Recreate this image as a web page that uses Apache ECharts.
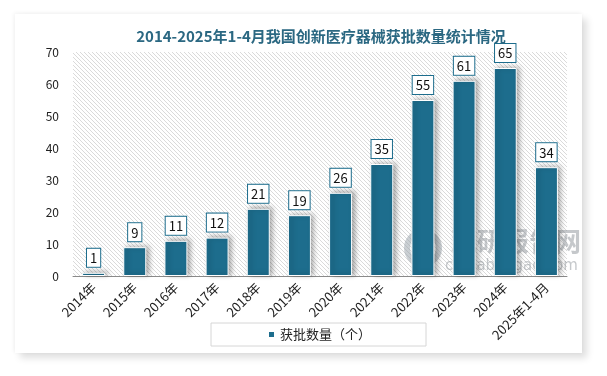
<!DOCTYPE html>
<html>
<head>
<meta charset="utf-8">
<script src="https://cdn.jsdelivr.net/npm/echarts@6/dist/echarts.min.js"></script>
<style>
  html, body { margin: 0; padding: 0; background: #fff; }
  #card {
    position: absolute; left: 15px; top: 14px; width: 567px; height: 339px;
    background: #fff; box-shadow: 5px 5px 7px rgba(0, 0, 0, 0.13), -1px -1px 4px rgba(0, 0, 0, 0.06);
  }
  #chart { position: absolute; left: 0; top: 0; width: 607px; height: 376px; }
</style>
</head>
<body>
<div id="card"></div>
<div id="chart"></div>
<script>
const years = ['2014年', '2015年', '2016年', '2017年', '2018年', '2019年', '2020年', '2021年', '2022年', '2023年', '2024年', '2025年1-4月'];
const approvals = [1, 9, 11, 12, 21, 19, 26, 35, 55, 61, 65, 34];
const seriesName = '获批数量（个）';
const titleText = '2014-2025年1-4月我国创新医疗器械获批数量统计情况';

// diagonal hatch for the plot background
const hatch = document.createElement('canvas');
hatch.width = 4;
hatch.height = 4;
const ctx = hatch.getContext('2d');
ctx.fillStyle = '#ffffff';
ctx.fillRect(0, 0, 4, 4);
ctx.strokeStyle = '#dadada';
ctx.lineWidth = 1;
ctx.beginPath();
ctx.moveTo(-1, -1);
ctx.lineTo(5, 5);
ctx.moveTo(-1, 3);
ctx.lineTo(1, 5);
ctx.moveTo(3, -1);
ctx.lineTo(5, 1);
ctx.stroke();

const chart = echarts.init(document.getElementById('chart'));
chart.setOption({
  backgroundColor: 'transparent',
  textStyle: { fontFamily: '"Noto Sans CJK SC", "DejaVu Sans", sans-serif' },
  title: {
    text: titleText,
    left: 316,
    textAlign: 'center',
    top: 24,
    textStyle: { fontSize: 15, fontWeight: 'bold', color: '#2b6882', fontFamily: '"Noto Sans CJK SC", serif' },
  },
  grid: {
    left: 73,
    right: 40,
    top: 52,
    bottom: 100,
    show: true,
    borderWidth: 0,
    backgroundColor: { image: hatch, repeat: 'repeat' },
  },
  legend: {
    left: 211,
    top: 323,
    padding: [5, 55, 5, 56],
    borderColor: '#d6d6d6',
    borderWidth: 1,
    itemWidth: 7,
    itemHeight: 7,
    icon: 'rect',
    textStyle: { fontSize: 13, color: '#222' },
    data: [seriesName],
  },
  xAxis: {
    type: 'category',
    data: years,
    axisLine: { lineStyle: { color: '#8a8a8a' } },
    axisTick: { show: false },
    axisLabel: { rotate: 45, fontSize: 13, color: '#222', margin: 9, interval: 0 },
  },
  yAxis: {
    type: 'value',
    min: 0,
    max: 70,
    interval: 10,
    axisLine: { show: false },
    axisTick: { show: false },
    splitLine: { show: false },
    axisLabel: { fontSize: 12, color: '#222', margin: 14 },
  },
  graphic: [
    {
      type: 'group',
      left: 404,
      top: 228,
      z: 100,
      silent: true,
      children: [
        { type: 'circle', shape: { cx: 20, cy: 22, r: 16 }, style: { fill: 'none', stroke: 'rgba(150,160,168,0.5)', lineWidth: 6 } },
        { type: 'text', x: 48, y: 2, style: { text: '观研报告网', fontSize: 26, fontWeight: 'bold', fill: 'rgba(150,155,160,0.55)', fontFamily: '"Noto Sans CJK SC"' } },
        { type: 'text', x: 42, y: 33, style: { text: 'chinabaogao.com', fontSize: 15, fill: 'rgba(150,155,160,0.55)', fontFamily: '"DejaVu Sans"' } },
      ],
    },
  ],
  series: [
    {
      name: seriesName,
      type: 'bar',
      data: approvals,
      barWidth: 23,
      itemStyle: {
        color: '#1d6d8d',
        borderColor: '#ffffff',
        borderWidth: 1,
        shadowColor: 'rgba(0,0,0,0.35)',
        shadowBlur: 5,
        shadowOffsetX: 3,
        shadowOffsetY: -1,
      },
      label: {
        show: true,
        position: 'top',
        distance: 6,
        fontSize: 13,
        color: '#111',
        backgroundColor: '#fff',
        borderColor: '#1d6d8d',
        borderWidth: 1,
        padding: [3, 3, 2, 3],
      },
    },
  ],
});
</script>
</body>
</html>
